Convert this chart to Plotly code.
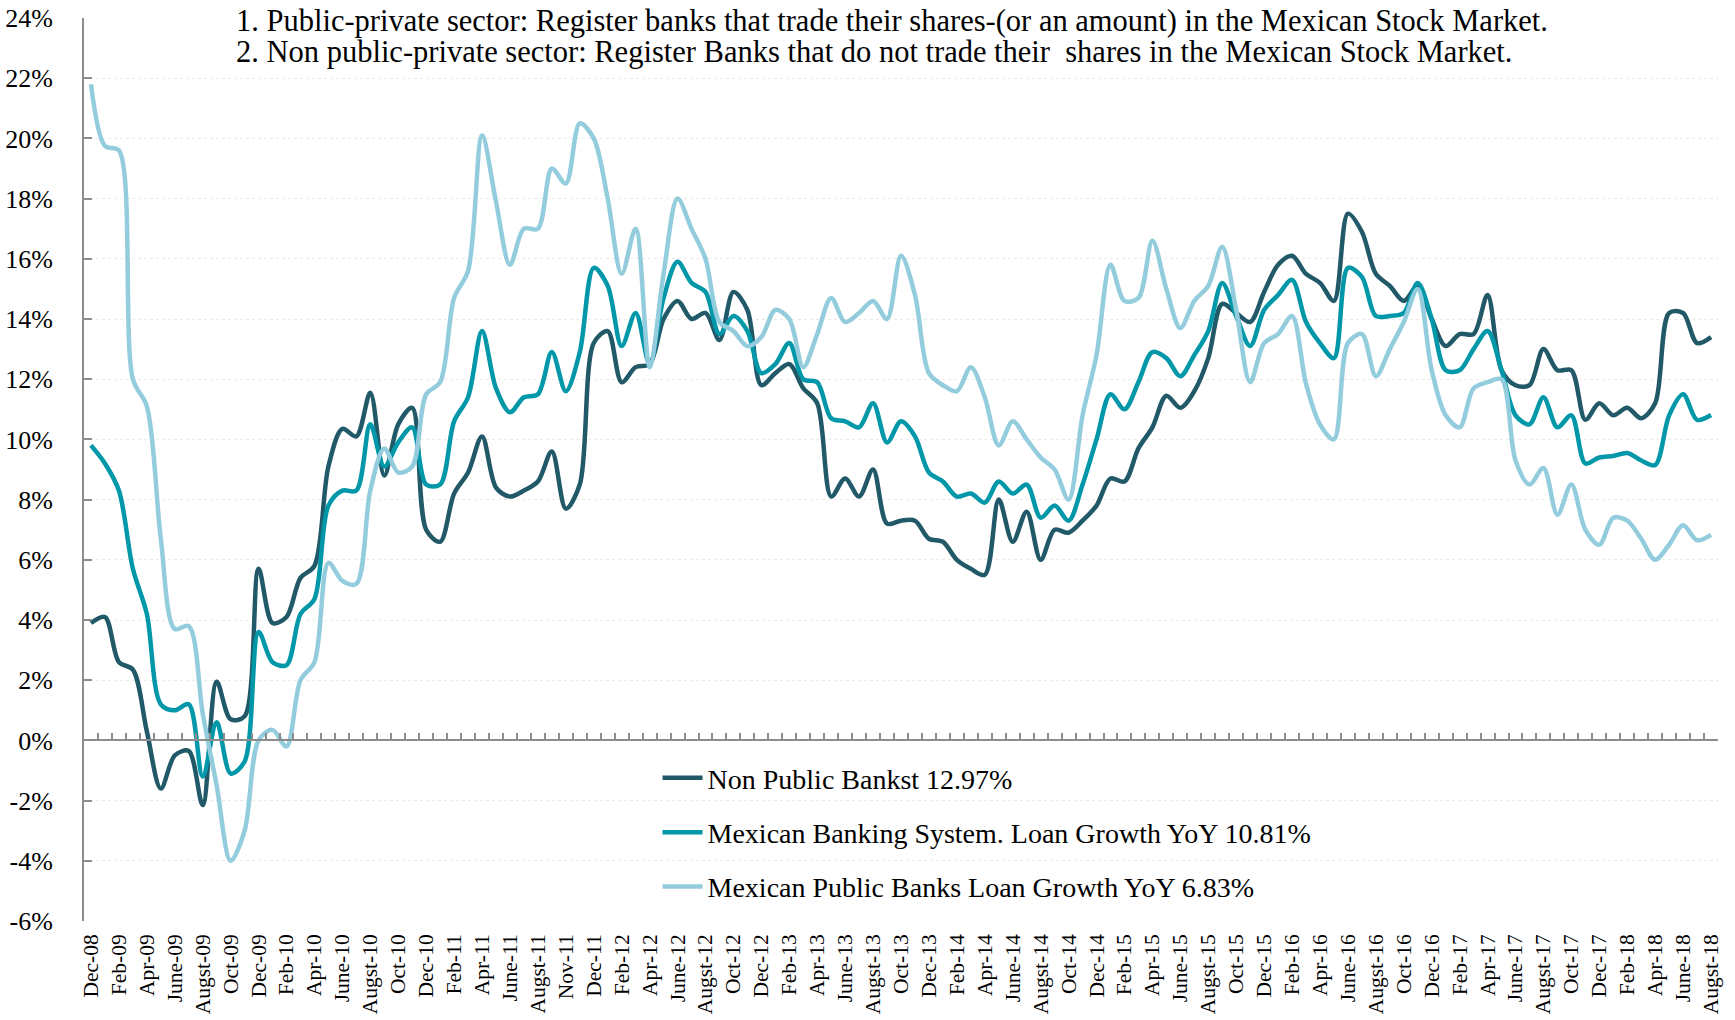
import plotly.graph_objects as go

tick_labels = ["Dec-08", "Feb-09", "Apr-09", "June-09", "Augst-09", "Oct-09", "Dec-09", "Feb-10",
               "Apr-10", "June-10", "Augst-10", "Oct-10", "Dec-10", "Feb-11", "Apr-11", "June-11",
               "Augst-11", "Nov-11", "Dec-11", "Feb-12", "Apr-12", "June-12", "Augst-12", "Oct-12",
               "Dec-12", "Feb-13", "Apr-13", "June-13", "Augst-13", "Oct-13", "Dec-13", "Feb-14",
               "Apr-14", "June-14", "Augst-14", "Oct-14", "Dec-14", "Feb-15", "Apr-15", "June-15",
               "Augst-15", "Oct-15", "Dec-15", "Feb-16", "Apr-16", "June-16", "Augst-16", "Oct-16",
               "Dec-16", "Feb-17", "Apr-17", "June-17", "Augst-17", "Oct-17", "Dec-17", "Feb-18",
               "Apr-18", "June-18", "Augst-18"]

y_tick_vals = [-6, -4, -2, 0, 2, 4, 6, 8, 10, 12, 14, 16, 18, 20, 22, 24]
y_tick_text = ["-6%", "-4%", "-2%", "0%", "2%", "4%", "6%", "8%", "10%", "12%", "14%",
               "16%", "18%", "20%", "22%", "24%"]

non_public = [3.9, 4.1, 2.6, 2.35, 0.3, -1.6, -0.5, -0.35, -2.15, 1.95,
              0.7, 0.8, 5.7, 3.9, 4.1, 5.4, 5.8, 9.1, 10.35, 10.1,
              11.55, 8.8, 10.5, 11.05, 7.0, 6.6, 8.2, 8.9, 10.1, 8.4,
              8.1, 8.3, 8.6, 9.6, 7.7, 8.5, 13.2, 13.6, 11.9, 12.4,
              12.5, 14.0, 14.6, 14.0, 14.2, 13.3, 14.9, 14.3, 11.8, 12.2,
              12.5, 11.7, 11.2, 8.1, 8.7, 8.1, 9.0, 7.2, 7.3, 7.3,
              6.7, 6.6, 6.0, 5.7, 5.5, 8.0, 6.6, 7.6, 6.0, 7.0,
              6.9, 7.3, 7.8, 8.7, 8.6, 9.7, 10.4, 11.45, 11.05, 11.6,
              12.7, 14.5, 14.2, 13.9, 14.9, 15.8, 16.1, 15.5, 15.2, 14.6,
              17.5, 16.9, 15.5, 15.1, 14.6, 15.1, 14.0, 13.1, 13.5, 13.5,
              14.8, 12.3, 11.8, 11.8, 13.0, 12.3, 12.3, 10.65, 11.2, 10.8,
              11.05, 10.7, 11.2, 14.2, 14.2, 13.2, 13.4]

banking_system = [9.8, 9.2, 8.3, 5.7, 4.2, 1.2, 1.0, 1.2, -1.2, 0.6,
                  -1.1, -0.7, 3.6, 2.6, 2.5, 4.2, 4.7, 7.8, 8.3, 8.3,
                  10.5, 9.1, 9.9, 10.4, 8.5, 8.5, 10.6, 11.4, 13.6, 11.7,
                  10.9, 11.4, 11.5, 12.9, 11.6, 12.9, 15.7, 15.1, 13.1, 14.2,
                  12.5, 14.7, 15.9, 15.2, 14.9, 13.5, 14.1, 13.6, 12.2, 12.5,
                  13.2, 12.0, 11.9, 10.7, 10.6, 10.4, 11.2, 9.9, 10.6, 10.1,
                  8.9, 8.6, 8.1, 8.2, 7.9, 8.6, 8.2, 8.5, 7.4, 7.8,
                  7.3, 8.5, 10.0, 11.5, 11.0, 11.9, 12.9, 12.7, 12.1, 12.8,
                  13.6, 15.2, 14.1, 13.1, 14.3, 14.8, 15.3, 13.9, 13.2, 12.7,
                  15.7, 15.4, 14.1, 14.1, 14.2, 15.2, 14.0, 12.3, 12.3, 13.0,
                  13.6, 12.3, 10.8, 10.5, 11.4, 10.4, 10.8, 9.2, 9.4, 9.45,
                  9.55, 9.3, 9.15, 10.8, 11.5, 10.65, 10.81]

public_banks = [21.8, 19.75, 19.6, 12.0, 11.1, 6.7, 3.7, 3.8, 0.9, -1.5,
                -4.0, -3.0, 0.0, 0.35, -0.2, 2.0, 2.6, 5.9, 5.3, 5.2,
                8.3, 9.7, 8.9, 9.1, 11.5, 11.9, 14.7, 15.6, 20.1, 17.9,
                15.8, 17.0, 17.0, 19.0, 18.5, 20.5, 20.0, 18.0, 15.5, 17.0,
                12.4, 15.5, 18.0, 17.0, 16.0, 13.9, 13.6, 13.1, 13.4, 14.3,
                14.0, 12.4, 13.5, 14.7, 13.9, 14.2, 14.6, 14.0, 16.1, 14.8,
                12.2, 11.8, 11.6, 12.4, 11.4, 9.8, 10.6, 10.0, 9.4, 9.0,
                8.0, 10.8, 12.8, 15.8, 14.6, 14.7, 16.6, 15.0, 13.7, 14.6,
                15.1, 16.4, 14.3, 11.9, 13.2, 13.5, 14.1, 11.85, 10.5, 10.0,
                13.2, 13.5, 12.1, 13.0, 13.9, 15.0, 12.3, 10.8, 10.4, 11.7,
                11.9, 12.0, 9.3, 8.5, 9.05, 7.5, 8.5, 7.0, 6.5, 7.4,
                7.3, 6.7, 6.0, 6.5, 7.15, 6.65, 6.83]

series_names = ["Non Public Bankst 12.97%",
                "Mexican Banking System. Loan Growth YoY 10.81%",
                "Mexican Public Banks Loan Growth YoY 6.83%"]
series_colors = ["#215968", "#0097A9", "#93CDDD"]

note_lines = ["1. Public-private sector: Register banks that trade their shares-(or an amount) in the Mexican Stock Market.",
              "2. Non public-private sector: Register Banks that do not trade their  shares in the Mexican Stock Market."]

n = len(non_public)
x_idx = list(range(n))
FONT = "Liberation Serif"

fig = go.Figure()
for i, (vals, name, col) in enumerate(zip([non_public, banking_system, public_banks], series_names, series_colors)):
    fig.add_trace(go.Scatter(
        x=x_idx, y=vals, name=name, mode="lines",
        line=dict(color=col, width=4.5, shape="spline", smoothing=0.9),
        legendgroup=f"g{i}", hoverinfo="skip"))

# helper (empty) trace so the zero-line axis subplot exists
fig.add_trace(go.Scatter(x=[], y=[], xaxis="x2", yaxis="y", showlegend=False, hoverinfo="skip"))

axis_gray = "#8C8C8C"
fig.update_layout(
    width=1735, height=1020,
    margin=dict(l=84, r=17, t=18, b=99, autoexpand=False),
    paper_bgcolor="white", plot_bgcolor="white",
    font=dict(family=FONT, color="black"),
    showlegend=True,
    legend=dict(x=0.351, y=0.186, xanchor="left", yanchor="top",
                font=dict(family=FONT, size=28, color="black"),
                bgcolor="rgba(0,0,0,0)", tracegroupgap=15, itemwidth=40),
    xaxis=dict(range=[-0.5, n - 0.5], tickmode="array",
               tickvals=list(range(0, n, 2)), ticktext=tick_labels,
               tickangle=-90, ticks="", showline=False, showgrid=False, zeroline=False,
               automargin=False,
               tickfont=dict(family=FONT, size=21.5, color="black"), ticklabelstandoff=8),
    xaxis2=dict(overlaying="x", anchor="free", position=0.2, side="bottom",
                range=[-0.5, n - 0.5], tickmode="array",
                tickvals=[k - 0.5 for k in range(n + 1)],
                ticks="inside", ticklen=6, tickwidth=2, tickcolor=axis_gray,
                showline=True, linecolor=axis_gray, linewidth=2, automargin=False,
                showticklabels=False, showgrid=False, zeroline=False),
    yaxis=dict(range=[-6, 24], tickmode="array", tickvals=y_tick_vals, ticktext=y_tick_text,
               showline=True, linecolor=axis_gray, linewidth=2,
               ticks="inside", ticklen=8, tickwidth=2, tickcolor=axis_gray,
               showgrid=True, gridcolor="#EAEAEA", griddash="dot", gridwidth=1,
               zeroline=False, automargin=False,
               tickfont=dict(family=FONT, size=26, color="black"),
               ticklabelstandoff=24),
    annotations=[dict(text=note_lines[0], xref="paper", yref="paper", x=0.0915, y=0.9964,
                      xanchor="left", yanchor="middle", align="left", showarrow=False,
                      font=dict(family=FONT, size=30.5, color="black")),
                 dict(text=note_lines[1], xref="paper", yref="paper", x=0.0915, y=0.9619,
                      xanchor="left", yanchor="middle", align="left", showarrow=False,
                      font=dict(family=FONT, size=30.5, color="black"))],
)

fig.write_html("out.html", config={"displayModeBar": False},
               post_script="document.body.style.margin='0px';")
